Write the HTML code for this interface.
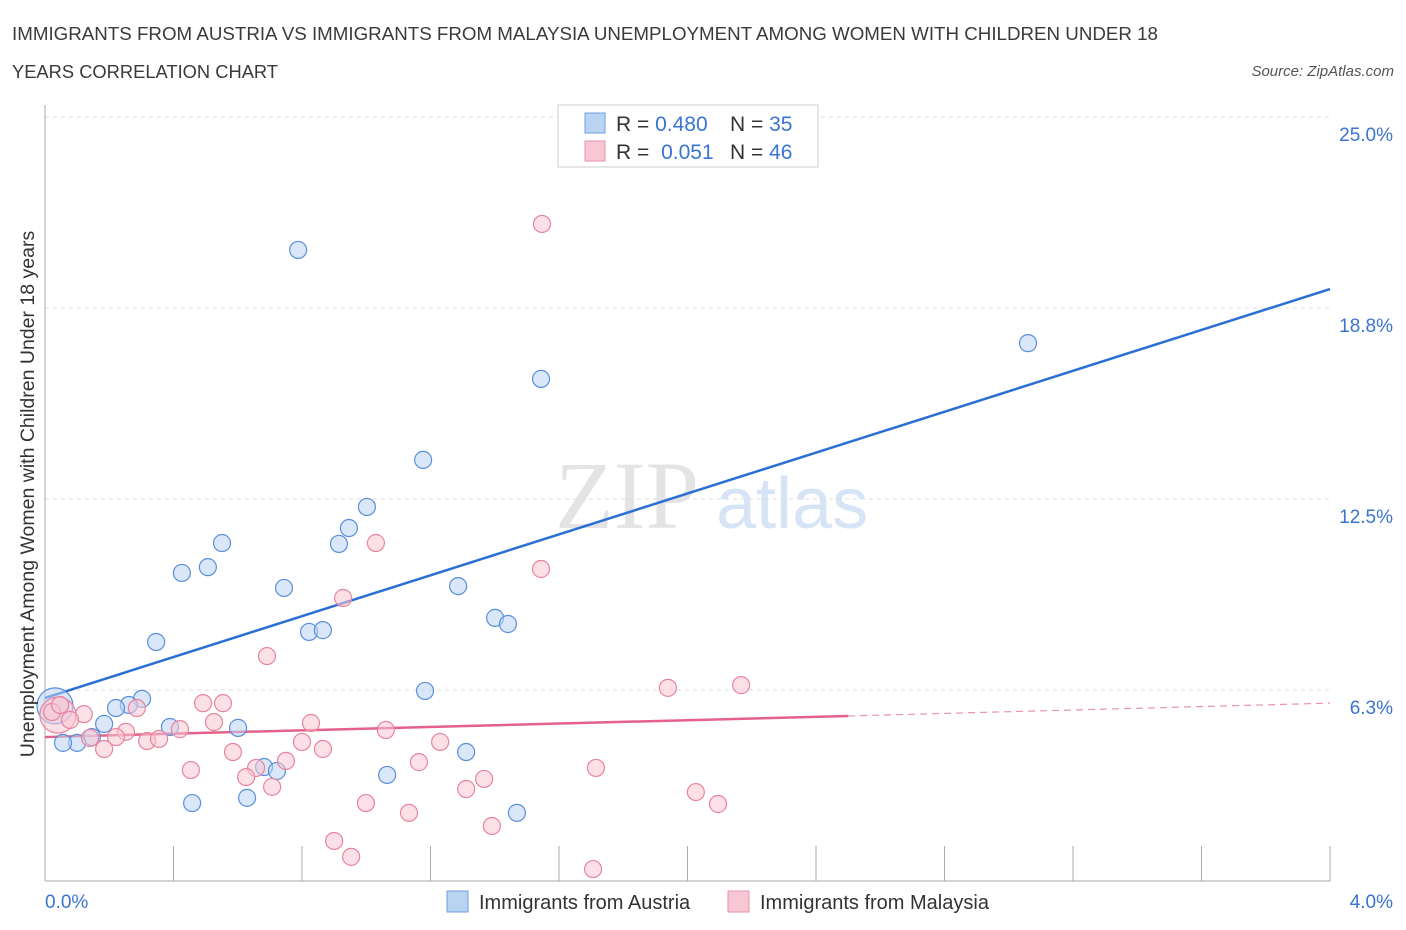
<!DOCTYPE html>
<html><head><meta charset="utf-8"><style>
body{margin:0;background:#fff;font-family:"Liberation Sans",sans-serif;}
svg{display:block}
</style></head><body>
<svg id="chart" width="1406" height="930">
<text x="12" y="40" font-size="18.5" fill="#3a3a3a" textLength="1146" lengthAdjust="spacingAndGlyphs">IMMIGRANTS FROM AUSTRIA VS IMMIGRANTS FROM MALAYSIA UNEMPLOYMENT AMONG WOMEN WITH CHILDREN UNDER 18</text>
<text x="12" y="78" font-size="18.5" fill="#3a3a3a" textLength="266" lengthAdjust="spacingAndGlyphs">YEARS CORRELATION CHART</text>
<text x="1394" y="76" font-size="15" fill="#555" font-style="italic" text-anchor="end">Source: ZipAtlas.com</text>
<g>
<text x="555" y="528" font-size="96" font-family="Liberation Serif,serif" fill="#e4e4e4">ZIP</text>
<text x="716" y="528" font-size="72" fill="#d6e4f5">atlas</text>
</g>
<g id="grid"></g>
<g id="axes"></g>
<g id="lines"></g>
<g id="pts"></g>
<g>
<rect x="558" y="105" width="260" height="62" fill="#fff" stroke="#ccc"/>
<rect x="585" y="113" width="20" height="20" fill="#b9d3f3" stroke="#6d9ee0"/>
<rect x="585" y="141" width="20" height="20" fill="#f8c7d6" stroke="#e993ae"/>
<text x="616" y="131" font-size="21" fill="#333">R = <tspan fill="#3a74d0">0.480</tspan><tspan x="730">N = </tspan><tspan fill="#3a74d0">35</tspan></text>
<text x="616" y="159" font-size="21" fill="#333">R = <tspan fill="#3a74d0" dx="6">0.051</tspan><tspan x="730">N = </tspan><tspan fill="#3a74d0">46</tspan></text>
</g>
<g>
<rect x="447" y="891" width="21" height="21" fill="#b9d3f3" stroke="#6d9ee0"/>
<text x="479" y="909" font-size="20" fill="#333">Immigrants from Austria</text>
<rect x="728" y="891" width="21" height="21" fill="#f8c7d6" stroke="#e993ae"/>
<text x="760" y="909" font-size="20" fill="#333">Immigrants from Malaysia</text>
</g>
<text transform="translate(34,494) rotate(-90)" font-size="19.5" fill="#333" text-anchor="middle">Unemployment Among Women with Children Under 18 years</text>
</svg>
<script>
const yTicks=[6.25,12.5,18.75,25];
const yTickLabels=["6.3%","12.5%","18.8%","25.0%"];
const xTickLabels=["0.0%","4.0%"];
const austriaX=[0.788,1.544,3.060,1.177,1.002,0.946,0.915,0.551,0.507,0.426,0.744,1.286,0.822,0.865,1.401,1.441,0.346,1.183,0.302,0.261,0.221,0.184,0.389,0.601,0.146,0.100,0.056,1.311,0.682,0.722,1.065,0.458,0.629,1.469,0.031];
const austriaY=[20.65,16.43,17.60,13.78,12.24,11.55,11.03,11.06,10.27,10.08,9.59,9.65,8.15,8.21,8.61,8.41,7.82,6.22,5.96,5.76,5.66,5.14,5.04,5.01,4.71,4.52,4.52,4.22,3.73,3.60,3.47,2.55,2.72,2.23,5.73];
const malaysiaX=[1.547,1.030,1.544,0.928,0.691,1.939,2.167,0.492,0.554,0.286,0.121,0.040,0.526,0.828,0.420,0.252,1.061,0.221,0.318,0.355,0.140,1.230,0.800,0.865,0.184,0.585,0.750,1.164,0.454,0.657,1.715,0.626,1.367,0.707,1.311,2.026,0.999,2.095,1.133,1.391,0.900,0.953,1.706,0.022,0.078,0.047];
const malaysiaY=[21.50,11.06,10.21,9.26,7.36,6.32,6.41,5.82,5.82,5.66,5.46,5.43,5.20,5.17,4.97,4.88,4.94,4.71,4.58,4.65,4.68,4.55,4.55,4.32,4.32,4.22,3.93,3.89,3.63,3.70,3.70,3.40,3.34,3.08,3.01,2.91,2.55,2.52,2.23,1.80,1.31,0.79,0.39,5.53,5.27,5.76];
const austriaTrend=[[0,5.99],[4,19.37]];
const malaysiaTrend=[[0,4.71],[2.5,5.40],[4,5.82]];
const NS="http://www.w3.org/2000/svg";
const X=v=>45+v*321.25, Y=v=>881-v*30.56;
function mk(tag,attrs,parent){const e=document.createElementNS(NS,tag);for(const k in attrs)e.setAttribute(k,attrs[k]);parent.appendChild(e);return e;}
const grid=document.getElementById('grid'),axes=document.getElementById('axes'),lines=document.getElementById('lines'),pts=document.getElementById('pts');
yTicks.forEach((t,i)=>{
 const l=mk('line',{x1:45,x2:1330,y1:Y(t),y2:Y(t),stroke:'#ddd','stroke-dasharray':'4,4'},grid);
 
 
 const tx=mk('text',{x:1393,y:Y(t)+24,'font-size':19,fill:'#3a74d0','text-anchor':'end'},axes);
 tx.textContent=yTickLabels[i];
 
 
});
const al=mk('line',{x1:45,x2:45,y1:105,y2:881,stroke:'#aaa'},axes);


const bl=mk('line',{x1:45,x2:1330,y1:881,y2:881,stroke:'#aaa'},axes);


for(let i=0;i<=10;i++){const v=i*0.4;const t=mk('line',{x1:X(v),x2:X(v),y1:846,y2:881,stroke:'#aaa'},axes);
 
 }
[[0,'start',45],[4,'end',1393]].forEach((d,i)=>{const t=mk('text',{x:d[2],y:908,'font-size':19,fill:'#3a74d0','text-anchor':d[1]},axes);t.textContent=xTickLabels[i];
 
 });
function drawPts(xs,ys,fill,stroke,big,name){xs.forEach((x,i)=>{const r=i===big?18:8.5;const c=mk('circle',{cx:X(x),cy:Y(ys[i]),r:r,fill:fill,'fill-opacity':0.55,stroke:stroke,'stroke-width':1.2},pts);
 
 });}
drawPts(austriaX,austriaY,'#b9d3f3','#5b8fdc',34,'austria-point');
drawPts(malaysiaX,malaysiaY,'#f8c7d6','#e8849f',11,'malaysia-point');
const bt=mk('line',{x1:X(austriaTrend[0][0]),y1:Y(austriaTrend[0][1]),x2:X(austriaTrend[1][0]),y2:Y(austriaTrend[1][1]),stroke:'#2a6fd6','stroke-width':2.5},lines);


const pt=mk('line',{x1:X(malaysiaTrend[0][0]),y1:Y(malaysiaTrend[0][1]),x2:X(malaysiaTrend[1][0]),y2:Y(malaysiaTrend[1][1]),stroke:'#e5608a','stroke-width':2.5},lines);


const pd=mk('line',{x1:X(malaysiaTrend[1][0]),y1:Y(malaysiaTrend[1][1]),x2:X(malaysiaTrend[2][0]),y2:Y(malaysiaTrend[2][1]),stroke:'#e993ae','stroke-width':1.2,'stroke-dasharray':'7,5'},lines);


</script>
</body></html>
